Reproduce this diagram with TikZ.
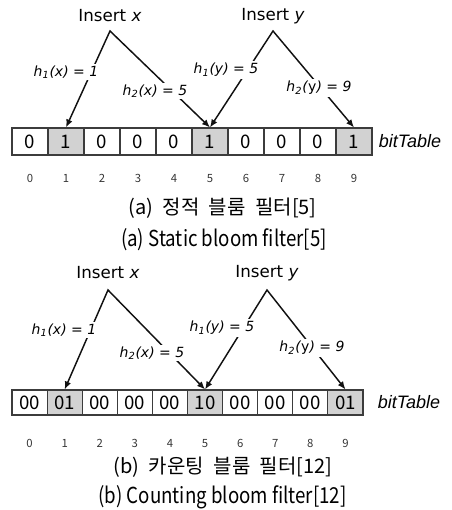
\documentclass[tikz,border=0pt]{standalone}
\usepackage{fontspec}
\usetikzlibrary{arrows.meta,positioning,calc}
\setmainfont{DejaVu Sans}
\newfontfamily\krfont{Noto Sans CJK KR}
\newfontfamily\capfont[FakeStretch=0.85]{Noto Sans CJK KR}
\newfontfamily\tblfont{Liberation Sans}
\definecolor{bfInk}{HTML}{111111}
\definecolor{bfEdge}{HTML}{3C3C3C}
\definecolor{bfSet}{HTML}{D2D2D2}
\tikzset{
  cellA/.style={draw=bfEdge, line width=0.8pt, minimum width=27pt, minimum height=20.25pt, inner sep=0pt, font=\krfont\fontsize{14}{15}\selectfont},
  cellB/.style={cellA, minimum width=26.3pt, minimum height=18.75pt},
  idx/.style={font=\krfont\fontsize{8.5}{9}\selectfont, text=bfInk!85},
  ins/.style={font=\fontsize{12.5}{14}\selectfont, inner sep=1pt},
  hlab/.style={fill=white, inner sep=1.5pt, font=\itshape\fontsize{10.5}{12}\selectfont},
  tbl/.style={font=\tblfont\itshape\fontsize{13.5}{15}\selectfont, inner sep=0pt},
  capk/.style={font=\krfont\fontsize{15}{17}\selectfont},
  cape/.style={font=\capfont\fontsize{16.5}{18}\selectfont},
  arr2/.style={{Latex[length=6pt,width=5pt]}-{Latex[length=6pt,width=5pt]}, line width=1.1pt, draw=bfInk},
}
\begin{document}
\begin{tikzpicture}[x=0.75pt, y=-0.75pt]
    \useasboundingbox (0,0) rectangle (451,510);
    % (a) static bloom filter
    \foreach \i/\v/\c in {0/0/white,1/1/bfSet,2/0/white,3/0/white,4/0/white,5/1/bfSet,6/0/white,7/0/white,8/0/white,9/1/bfSet}{
        \node[cellA, fill=\c] (a\i) at ({30+36*\i},141.5) {\v};
        \node[idx] (ia\i) at ([yshift=-17pt]a\i.south) {\i};
    }
    \node[tbl, right=4.5pt of a9] (ta) {bitTable};
    \node[ins] (insxa) at (110,16) {Insert \textit{x}};
    \node[ins] (insya) at (273,16) {Insert \textit{y}};
    \coordinate (pxa) at ([yshift=-11.25pt]insxa.center);
    \coordinate (pya) at ([yshift=-11.25pt]insya.center);
    \draw[arr2] (a1.north) -- (pxa) -- (a5.north);
    \draw[arr2] (a5.north) -- (pya) -- (a9.north);
    \node[hlab] (h1xa) at (66,72) {h\textsubscript{1}(x) = 1};
    \node[hlab] (h2xa) at (155,91) {h\textsubscript{2}(x) = 5};
    \node[hlab] (h1ya) at (226,70) {h\textsubscript{1}(y) = 5};
    \node[hlab] (h2ya) at (319,88) {h\textsubscript{2}(\textup{y}) = 9};
    \node[capk] (capka) at (222.5,208) {(a)\hspace{0.25em} 정적\hspace{0.25em} 블룸\hspace{0.25em} 필터[5]};
    \node[cape] (capea) at (224,240) {(a) Static bloom filter[5]};

    % (b) counting bloom filter
    \foreach \i/\v/\c in {0/00/white,1/01/bfSet,2/00/white,3/00/white,4/00/white,5/10/bfSet,6/00/white,7/00/white,8/00/white,9/01/bfSet}{
        \node[cellB, fill=\c] (b\i) at ({29.55+35.1*\i},402.5) {\v};
        \node[idx] (ib\i) at ([yshift=-21pt]b\i.south) {\i};
    }
    \node[tbl, right=10.5pt of b9] (tb) {bitTable};
    \node[ins] (insxb) at (108,273) {Insert \textit{x}};
    \node[ins] (insyb) at (267,273) {Insert \textit{y}};
    \coordinate (pxb) at ([yshift=-12.75pt]insxb.center);
    \coordinate (pyb) at ([yshift=-12.75pt]insyb.center);
    \draw[arr2] (b1.north) -- (pxb) -- (b5.north);
    \draw[arr2] (b5.north) -- (pyb) -- (b9.north);
    \node[hlab] (h1xb) at (64,330) {h\textsubscript{1}(x) = 1};
    \node[hlab] (h2xb) at (152,353) {h\textsubscript{2}(x) = 5};
    \node[hlab] (h1yb) at (222,328) {h\textsubscript{1}(y) = 5};
    \node[hlab] (h2yb) at (312,348) {h\textsubscript{2}(\textup{y}) = 9};
    \node[capk] (capkb) at (223,467) {(b)\hspace{0.25em} 카운팅\hspace{0.25em} 블룸\hspace{0.25em} 필터[12]};
    \node[cape] (capeb) at (222.5,497) {(b) Counting bloom filter[12]};
\end{tikzpicture}
\end{document}
